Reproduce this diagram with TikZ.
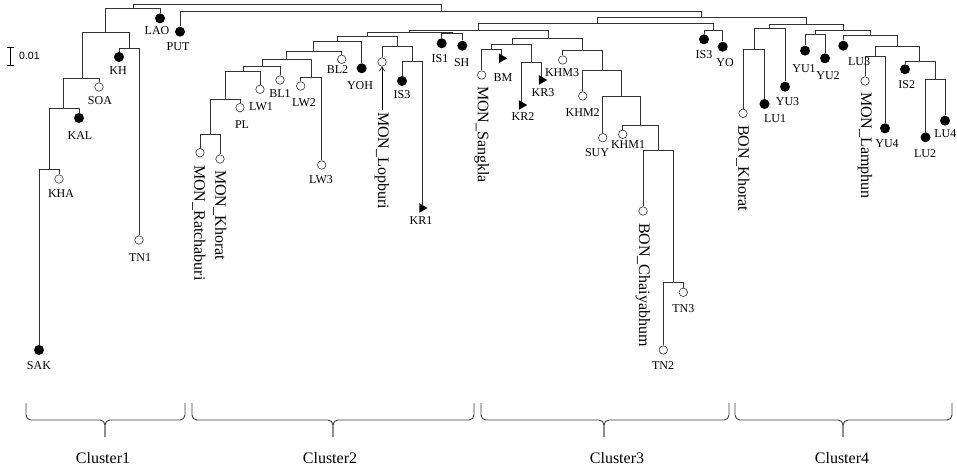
\documentclass[tikz,border=0pt]{standalone}
\usepackage{fontspec}
\setmainfont{Liberation Serif}
\newfontfamily\sbfont{Liberation Sans}
\usetikzlibrary{shapes.geometric,arrows.meta}
\begin{document}
\begin{tikzpicture}[x=1pt,y=-1pt,
 br/.style={draw=black!80,line width=1pt},
 fdot/.style={circle,fill=black,inner sep=0,minimum size=10pt},
 odot/.style={circle,draw=black!80,fill=white,line width=0.6pt,inner sep=0,minimum size=8.5pt},
 tri/.style={regular polygon,regular polygon sides=3,shape border rotate=-90,fill=black,inner sep=0,minimum size=11pt},
 lab/.style={font=\fontsize{12}{12}\selectfont,inner sep=0},
 vlab/.style={font=\fontsize{16}{16}\selectfont,rotate=-90,anchor=west,inner sep=0},
 clab/.style={font=\fontsize{16}{16}\selectfont,inner sep=0},
 brk/.style={draw=black!75,line width=0.9pt,rounded corners=5pt}]
\useasboundingbox[fill=white] (0,0) rectangle (957,470);

% ---------- leaf markers ----------
\node[fdot] (SAK) at (39,350) {};
\node[odot] (KHA) at (59,179) {};
\node[fdot] (KAL) at (79,118) {};
\node[odot] (SOA) at (99,87) {};
\node[fdot] (KH) at (119,57) {};
\node[odot] (TN1) at (139,240) {};
\node[fdot] (LAO) at (160,18.3) {};
\node[fdot] (PUT) at (180,31.7) {};
\node[odot] (MONR) at (200,152.7) {};
\node[odot] (MONK) at (220,159) {};
\node[odot] (PL) at (240,107.7) {};
\node[odot] (LW1) at (260,89.3) {};
\node[odot] (BL1) at (280,80) {};
\node[odot] (LW2) at (300.7,86) {};
\node[odot] (LW3) at (321.7,165) {};
\node[odot] (BL2) at (341.7,59.3) {};
\node[fdot] (YOH) at (361.7,68.3) {};
\node[odot] (MONL) at (382,62) {};
\node[fdot] (ISa) at (402,81) {};
\node[tri] (KRa) at (422,208) {};
\node[fdot] (ISb) at (441.7,43.3) {};
\node[fdot] (SH) at (462.3,45.7) {};
\node[odot] (MONS) at (481.7,75) {};
\node[tri] (BM) at (501.7,58.3) {};
\node[tri] (KRb) at (521.7,105) {};
\node[tri] (KRc) at (541.7,80) {};
\node[odot] (KHMc) at (562.7,60) {};
\node[odot] (KHMb) at (582.7,96) {};
\node[odot] (SUY) at (602.7,137.7) {};
\node[odot] (KHMa) at (622.7,134.3) {};
\node[odot] (BONC) at (643,211) {};
\node[odot] (TNb) at (663.3,350) {};
\node[odot] (TNc) at (683.3,292.3) {};
\node[fdot] (ISc) at (704,39.3) {};
\node[fdot] (YO) at (722.7,46.7) {};
\node[odot] (BONK) at (743,113.3) {};
\node[fdot] (LUa) at (764.5,104) {};
\node[fdot] (YUc) at (785,86.7) {};
\node[fdot] (YUa) at (805,50.7) {};
\node[fdot] (YUb) at (825,58.3) {};
\node[fdot] (LUc) at (843.3,45.7) {};
\node[odot] (MONLa) at (865,81) {};
\node[fdot] (YUd) at (885,128.3) {};
\node[fdot] (ISd) at (905,69.3) {};
\node[fdot] (LUb) at (925.5,137.3) {};
\node[fdot] (LUd) at (945,120.7) {};

% ---------- internal nodes ----------
\coordinate (root) at (287,5);
\coordinate (nA) at (133,9);
\coordinate (nB) at (441,12);
\coordinate (nC1) at (105,32.3);
\coordinate (nF) at (129,48.7);
\coordinate (nE) at (82,79);
\coordinate (nG) at (63,109);
\coordinate (nH) at (49,170);
\coordinate (nD) at (701,18);
\coordinate (n597) at (597,24);
\coordinate (n713) at (713,30.7);
\coordinate (n478) at (478,30.7);
\coordinate (n409) at (409,33);
\coordinate (n452) at (452,34);
\coordinate (n367) at (367,36.7);
\coordinate (n337) at (337,41.7);
\coordinate (n313) at (313,51.7);
\coordinate (n286) at (286,59.3);
\coordinate (n311) at (311,77.3);
\coordinate (n263) at (262,66.7);
\coordinate (n243) at (243,71.7);
\coordinate (n225) at (225,100);
\coordinate (n210) at (210,134.3);
\coordinate (n397) at (397,46.7);
\coordinate (n412) at (412,61.7);
\coordinate (n548) at (548,38.3);
\coordinate (n512) at (512,44.3);
\coordinate (n492) at (491.7,50);
\coordinate (n533) at (531.7,62.7);
\coordinate (n583) at (582.7,51);
\coordinate (n602) at (602.3,70.7);
\coordinate (n622) at (621.7,96.7);
\coordinate (n641) at (640.7,125.7);
\coordinate (n659) at (658.7,150.7);
\coordinate (n673) at (673.3,282.7);
\coordinate (n806) at (806,25);
\coordinate (n769) at (769.3,28.3);
\coordinate (n754) at (754,49.3);
\coordinate (n843) at (843.3,30.7);
\coordinate (n815) at (815,35);
\coordinate (n871) at (870.5,36);
\coordinate (n897) at (897,46.7);
\coordinate (n875) at (875,56.7);
\coordinate (n919) at (919.3,61.7);
\coordinate (n935) at (935.3,79.3);

% ---------- branches ----------
\draw[br] (root) -| (nA) (root) -| (nB);
\draw[br] (nA) -| (nC1) (nA) -| (LAO);
\draw[br] (nB) -| (PUT) (nB) -| (nD);
\draw[br] (nC1) -| (nE) (nC1) -| (nF);
\draw[br] (nF) -| (KH) (nF) -| (TN1);
\draw[br] (nE) -| (nG) (nE) -| (SOA);
\draw[br] (nG) -| (nH) (nG) -| (KAL);
\draw[br] (nH) -| (SAK) (nH) -| (KHA);
\draw[br] (nD) -| (n597) (nD) -| (n806);
\draw[br] (n597) -| (n478) (n597) -| (n713);
\draw[br] (n713) -| (ISc) (n713) -| (YO);
\draw[br] (n478) -| (n409) (n478) -| (n548);
\draw[br] (n409) -| (n367) (n409) -| (n452);
\draw[br] (n452) -| (ISb) (n452) -| (SH);
\draw[br] (n367) -| (n337) (n367) -| (n397);
\draw[br] (n337) -| (n313) (n337) -| (YOH);
\draw[br] (n313) -| (n286) (n313) -| (BL2);
\draw[br] (n286) -| (n263) (n286) -| (n311);
\draw[br] (n311) -| (LW2) (n311) -| (LW3);
\draw[br] (n263) -| (n243) (n263) -| (BL1);
\draw[br] (n243) -| (n225) (n243) -| (LW1);
\draw[br] (n225) -| (n210) (n225) -| (PL);
\draw[br] (n210) -| (MONR) (n210) -| (MONK);
\draw[br] (n397) -| (MONL) (n397) -| (n412);
\draw[br] (n412) -| (ISa) (n412) -| (KRa);
\draw[br] (n548) -| (n512) (n548) -| (n583);
\draw[br] (n512) -| (n492) (n512) -| (n533);
\draw[br] (n492) -| (MONS) (n492) -| (BM);
\draw[br] (n533) -| (KRb) (n533) -| (KRc);
\draw[br] (n583) -| (KHMc) (n583) -| (n602);
\draw[br] (n602) -| (KHMb) (n602) -| (n622);
\draw[br] (n622) -| (SUY) (n622) -| (n641);
\draw[br] (n641) -| (KHMa) (n641) -| (n659);
\draw[br] (n659) -| (BONC) (n659) -| (n673);
\draw[br] (n673) -| (TNb) (n673) -| (TNc);
\draw[br] (n806) -| (n769) (n806) -| (n843);
\draw[br] (n769) -| (n754) (n769) -| (YUc);
\draw[br] (n754) -| (BONK) (n754) -| (LUa);
\draw[br] (n843) -| (n815) (n843) -| (n871);
\draw[br] (n815) -| (YUa) (n815) -| (YUb);
\draw[br] (n871) -| (LUc) (n871) -| (n897);
\draw[br] (n897) -| (n875) (n897) -| (n919);
\draw[br] (n875) -| (MONLa) (n875) -| (YUd);
\draw[br] (n919) -| (ISd) (n919) -| (n935);
\draw[br] (n935) -| (LUb) (n935) -| (LUd);

% ---------- labels ----------
\node[lab] (tSAK) at (39,366) {SAK};
\node[lab] (tKHA) at (61,194) {KHA};
\node[lab] (tKAL) at (80,136) {KAL};
\node[lab] (tSOA) at (100,101) {SOA};
\node[lab] (tKH) at (118,71) {KH};
\node[lab] (tTN1) at (140,258) {TN1};
\node[lab] (tLAO) at (157,31) {LAO};
\node[lab] (tPUT) at (178,47) {PUT};
\node[vlab] (tMONR) at (199,165) {MON\_Ratchaburi};
\node[vlab] (tMONK) at (220,170) {MON\_Khorat};
\node[lab] (tPL) at (242,125) {PL};
\node[lab] (tLW1) at (261,107) {LW1};
\node[lab] (tBL1) at (280,94) {BL1};
\node[lab] (tLW2) at (304,103) {LW2};
\node[lab] (tLW3) at (321,180) {LW3};
\node[lab] (tBL2) at (337.5,70) {BL2};
\node[lab] (tYOH) at (360,86) {YOH};
\node[vlab] (tMONL) at (382,112) {MON\_Lopburi};
\node[lab] (tISa) at (402,95) {IS3};
\node[lab] (tKRa) at (421,221) {KR1};
\node[lab] (tISb) at (440,58.3) {IS1};
\node[lab] (tSH) at (461.7,62.7) {SH};
\node[vlab] (tMONS) at (481.7,86) {MON\_Sangkla};
\node[lab] (tBM) at (503,77.3) {BM};
\node[lab] (tKRb) at (523,117) {KR2};
\node[lab] (tKRc) at (543,92.7) {KR3};
\node[lab] (tKHMc) at (562,72.7) {KHM3};
\node[lab] (tKHMb) at (582.7,112.7) {KHM2};
\node[lab] (tSUY) at (597,153) {SUY};
\node[lab] (tKHMa) at (628,145) {KHM1};
\node[vlab] (tBONC) at (643,223) {BON\_Chaiyabhum};
\node[lab] (tTNc) at (683.3,308.3) {TN3};
\node[lab] (tTNb) at (663,366) {TN2};
\node[lab] (tISc) at (704,55) {IS3};
\node[lab] (tYO) at (725,62.7) {YO};
\node[vlab] (tBONK) at (743,125) {BON\_Khorat};
\node[lab] (tLUa) at (775,118.3) {LU1};
\node[lab] (tYUc) at (787.5,101.7) {YU3};
\node[lab] (tYUa) at (804,68.3) {YU1};
\node[lab] (tYUb) at (828,76) {YU2};
\node[lab] (tLUc) at (859,61.7) {LU3};
\node[vlab] (tMONLa) at (865,92) {MON\_Lamphun};
\node[lab] (tYUd) at (887,143.3) {YU4};
\node[lab] (tISd) at (906.7,85) {IS2};
\node[lab] (tLUb) at (925,154) {LU2};
\node[lab,anchor=east] (tLUd) at (956.5,133.3) {LU4};

% arrow to MON_Lopburi
\draw[-{Straight Barb[length=4pt,width=5pt]},line width=0.6pt,shorten <=2pt] (tMONL.west) -- (MONL);

% ---------- scale bar ----------
\coordinate (sbT) at (10,47.7);
\coordinate (sbB) at (10,65.7);
\draw[line width=0.8pt] (sbT) -- (sbB) (6.5,47.7) -- (13.5,47.7) (6.5,65.7) -- (13.5,65.7);
\node[font=\sbfont\fontsize{10.5}{10.5}\selectfont,anchor=west,inner sep=0] (sbl) at (19,56) {0.01};

% ---------- cluster brackets ----------
\draw[brk] (26,403) -- (26,420) -- (105,420) -- (105,437);
\draw[brk] (185,403) -- (185,420) -- (105,420) -- (105,437);
\draw[brk] (192,403) -- (192,420) -- (333,420) -- (333,437);
\draw[brk] (474,403) -- (474,420) -- (333,420) -- (333,437);
\draw[brk] (481,403) -- (481,420) -- (604,420) -- (604,437);
\draw[brk] (729,403) -- (729,420) -- (604,420) -- (604,437);
\draw[brk] (735,403) -- (735,420) -- (843,420) -- (843,437);
\draw[brk] (952,403) -- (952,420) -- (843,420) -- (843,437);
\node[clab] (c1) at (103,458) {Cluster1};
\node[clab] (c2) at (330,458) {Cluster2};
\node[clab] (c3) at (617,458) {Cluster3};
\node[clab] (c4) at (842,458) {Cluster4};
\end{tikzpicture}
\end{document}
